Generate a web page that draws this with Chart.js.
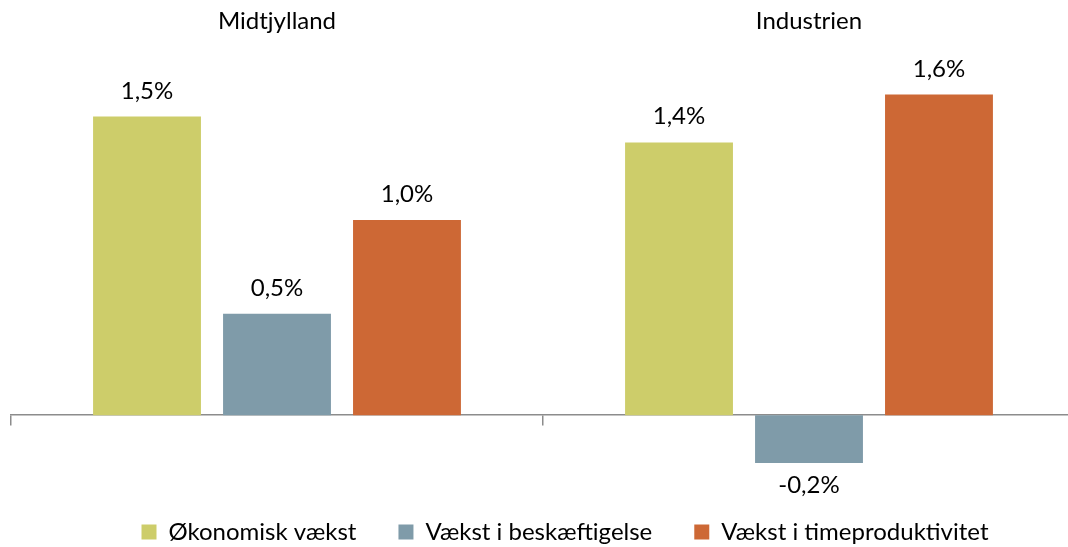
<!DOCTYPE html>
<html>
<head>
<meta charset="utf-8">
<script src="https://cdn.jsdelivr.net/npm/chart.js@4"></script>
<style>
  html, body { margin: 0; padding: 0; background: #fff; overflow: hidden; }
  #wrap { width: 1100px; height: 547px; }
</style>
</head>
<body>
<div id="wrap"><canvas id="myChart" width="1100" height="547"></canvas></div>
<script>
const categories = ['Midtjylland', 'Industrien'];
const seriesNames = ['Økonomisk vækst', 'Vækst i beskæftigelse', 'Vækst i timeproduktivitet'];
const oekonomiskVaekst = [1.50, 1.37];
const vaekstBeskaeftigelse = [0.51, -0.24];
const vaekstTimeproduktivitet = [0.98, 1.61];
const colors = ['#CDCD6A', '#7F9BA9', '#CD6835'];

const fontFamily = 'Lato, "Open Sans", sans-serif';
const ctx = document.getElementById('myChart');

function fmt(v) {
    return v.toFixed(1).replace('.', ',') + '%';
}

// draws the value over (or under) every bar
const valueLabels = {
    id: 'valueLabels',
    afterDatasetsDraw(chart) {
        const c = chart.ctx;
        c.save();
        c.font = '24px ' + fontFamily;
        c.fillStyle = '#000';
        c.textAlign = 'center';
        c.textBaseline = 'alphabetic';
        chart.data.datasets.forEach((ds, i) => {
            chart.getDatasetMeta(i).data.forEach((bar, j) => {
                const v = ds.data[j];
                const y = v >= 0 ? bar.y - 18 : bar.y + 30;
                c.fillText(fmt(v), bar.x, y);
            });
        });
        c.restore();
    }
};

// legend is not centred on the plot in the original
const legendShift = {
    id: 'legendShift',
    afterLayout(chart) {
        chart.legend.left += 22;
        chart.legend.right += 22;
        chart.legend.top += 7;
        chart.legend.bottom += 7;
    }
};

new Chart(ctx, {
    type: 'bar',
    data: {
        labels: categories,
        datasets: [
            { label: seriesNames[0], data: oekonomiskVaekst, backgroundColor: colors[0] },
            { label: seriesNames[1], data: vaekstBeskaeftigelse, backgroundColor: colors[1] },
            { label: seriesNames[2], data: vaekstTimeproduktivitet, backgroundColor: colors[2] }
        ]
    },
    options: {
        responsive: false,
        animation: false,
        categoryPercentage: 0.733,
        barPercentage: 0.83,
        layout: { padding: { left: 11, right: 25, top: 3, bottom: 0 } },
        plugins: {
            legend: {
                position: 'bottom',
                labels: {
                    boxWidth: 15,
                    boxHeight: 15,
                    padding: 42,
                    color: '#000',
                    font: { family: fontFamily, size: 24 }
                }
            },
            tooltip: { enabled: false }
        },
        scales: {
            x: {
                position: { y: 0 },
                ticks: { display: false },
                grid: { display: true, offset: true, drawOnChartArea: false, tickLength: 10, color: '#8C8C8C', lineWidth: 1.5 },
                border: { display: true, color: '#8C8C8C', width: 1.5 }
            },
            x2: {
                type: 'category',
                position: 'top',
                offset: true,
                grid: { display: false },
                border: { display: false },
                ticks: { color: '#000', font: { family: fontFamily, size: 24 }, padding: 4 }
            },
            y: {
                display: false,
                min: -0.28,
                max: 1.845
            }
        }
    },
    plugins: [valueLabels, legendShift]
});
</script>
</body>
</html>
